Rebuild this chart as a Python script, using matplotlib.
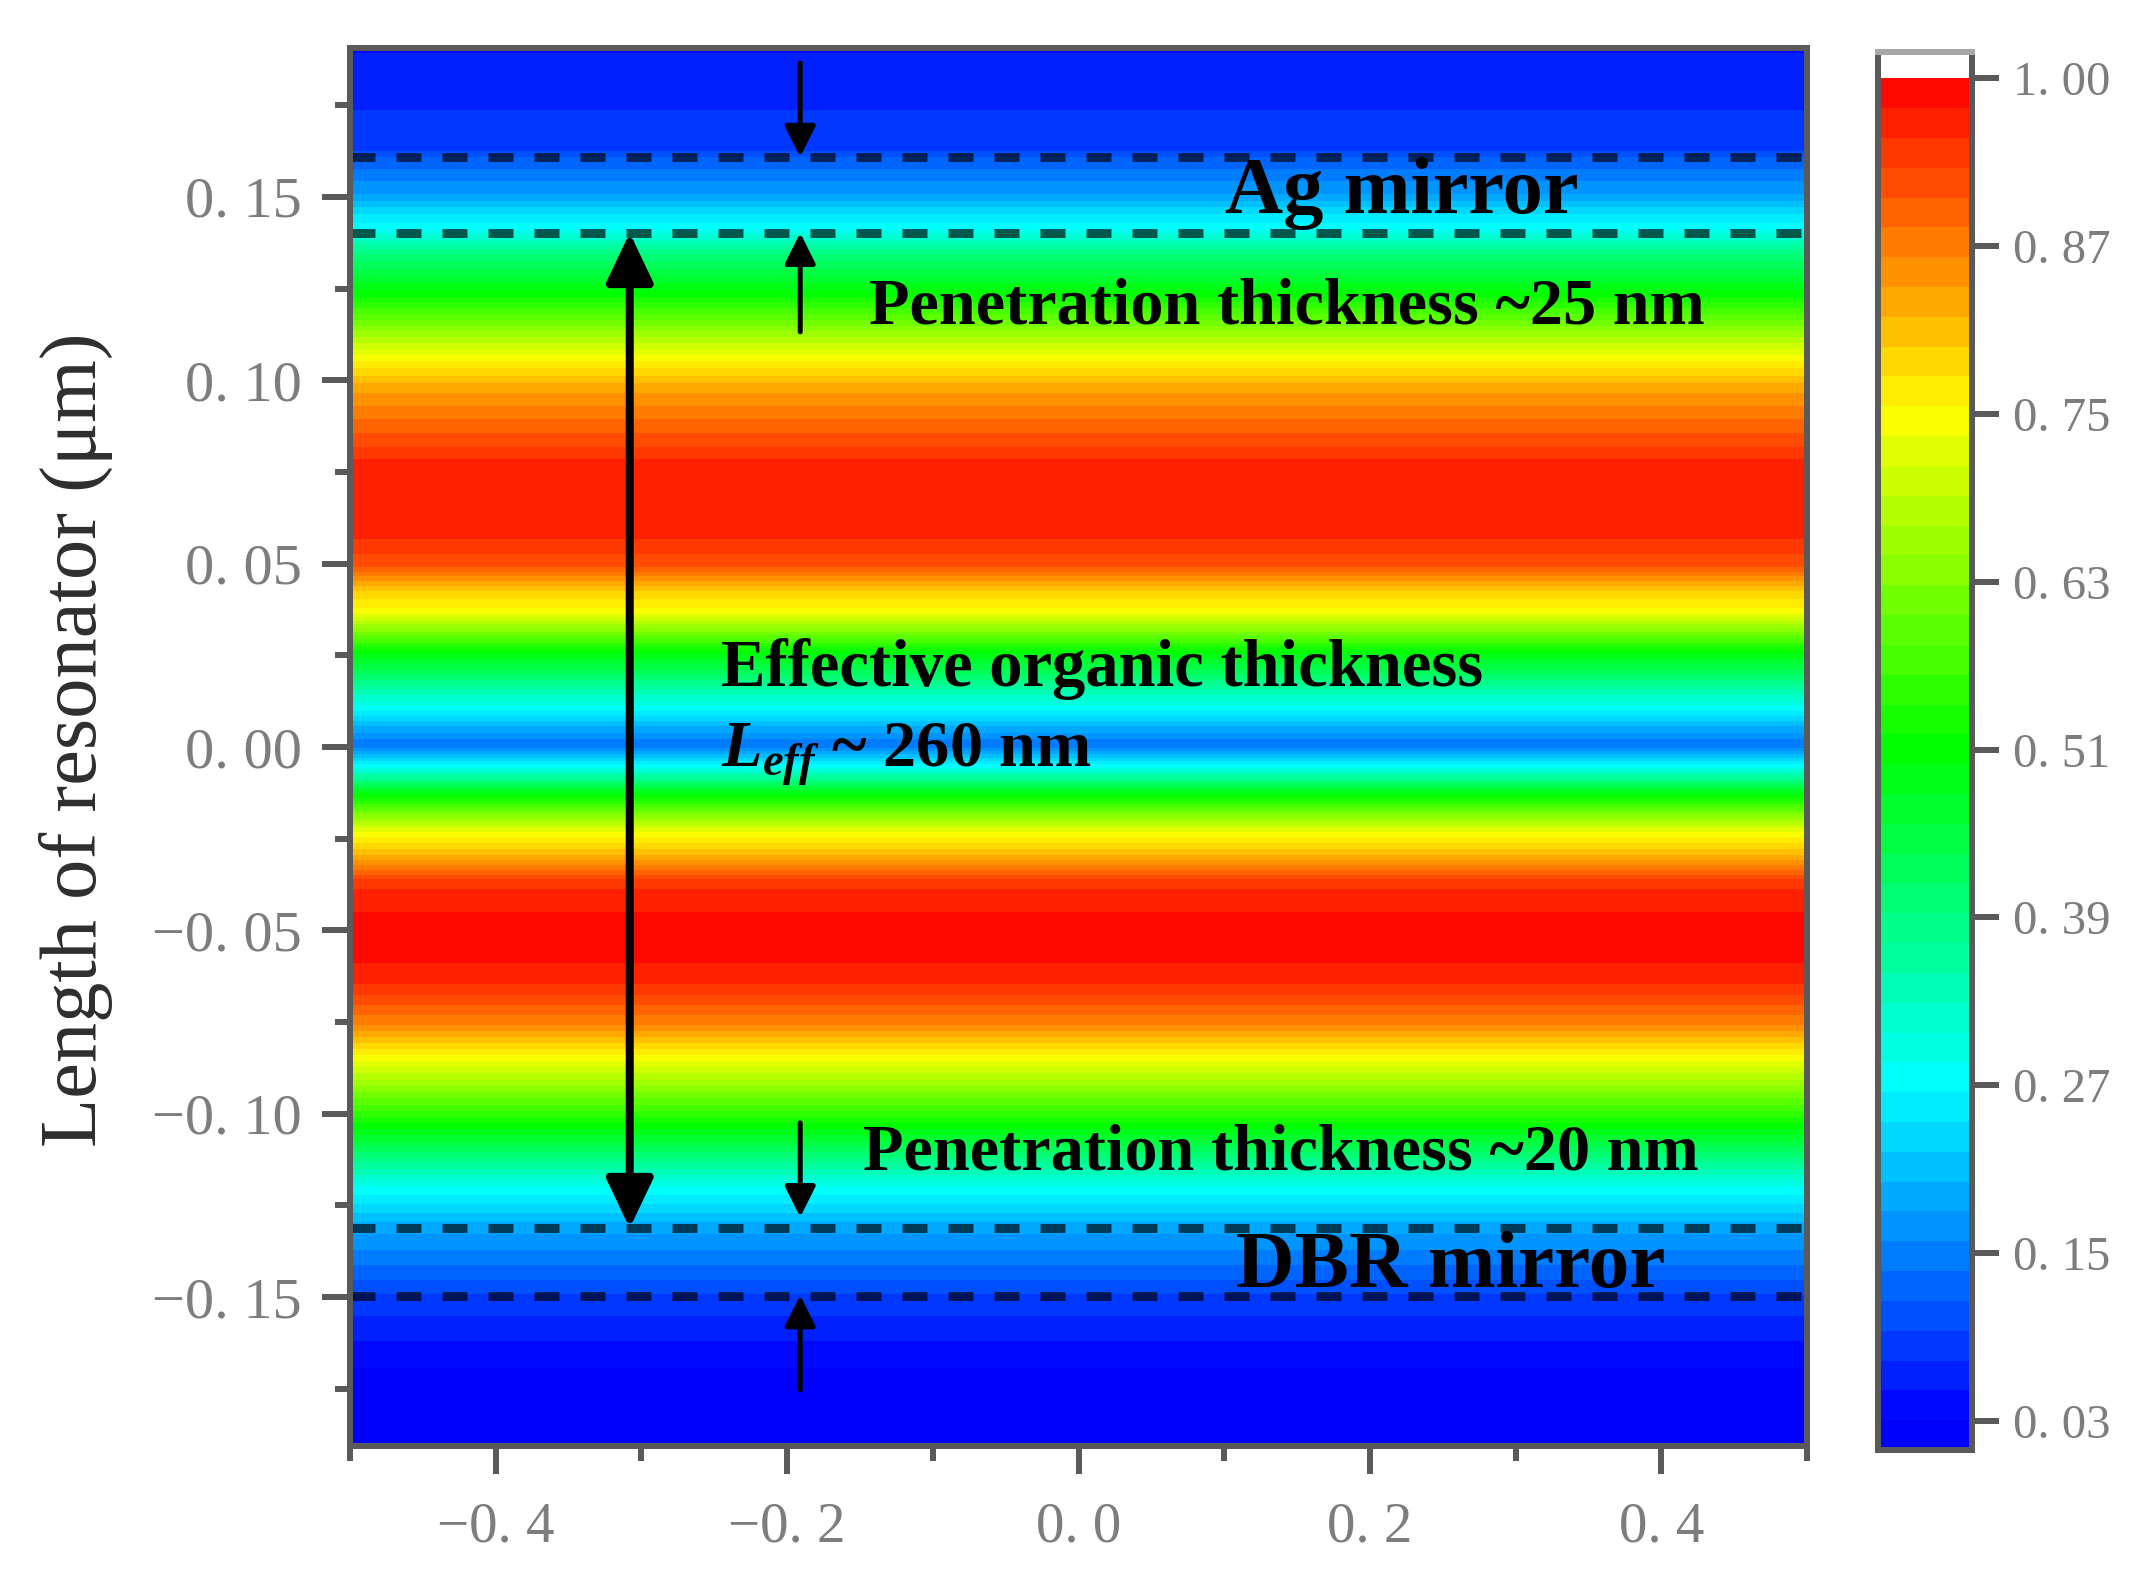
import matplotlib
matplotlib.use("Agg")
import matplotlib.pyplot as plt
import numpy as np
from matplotlib.colors import LinearSegmentedColormap, Normalize
from matplotlib.patches import FancyArrowPatch

plt.rcParams['font.family'] = ['Liberation Serif', 'DejaVu Serif']
plt.rcParams['mathtext.fontset'] = 'custom'
plt.rcParams['mathtext.it'] = 'Liberation Serif:italic:bold'
plt.rcParams['mathtext.rm'] = 'Liberation Serif:bold'

## Intensity profile along the resonator.
length_um = [-0.1906, -0.1695, -0.160, -0.15, -0.142, -0.131, -0.120, -0.1035,
             -0.0845, -0.076, -0.063, -0.051, -0.042, -0.037, -0.029, -0.0235,
             -0.0125, -0.0055, -0.0035, 0.0005, 0.0055, 0.011, 0.026, 0.037,
             0.043, 0.050, 0.055, 0.057, 0.067, 0.078, 0.080, 0.089, 0.098,
             0.106, 0.124, 0.135, 0.1415, 0.144, 0.151, 0.155, 0.161, 0.163,
             0.1735, 0.174, 0.189, 0.1906]
intensity = [0.02, 0.03, 0.058, 0.09, 0.135, 0.19, 0.285, 0.515,
             0.755, 0.87, 0.97, 0.995, 0.97, 0.95, 0.82, 0.75,
             0.50, 0.285, 0.24, 0.14, 0.20, 0.285, 0.515, 0.755,
             0.81, 0.93, 0.94, 0.96, 0.975, 0.96, 0.945, 0.895, 0.84,
             0.755, 0.51, 0.39, 0.275, 0.26, 0.18, 0.155, 0.115, 0.09,
             0.08, 0.07, 0.055, 0.035]
position = [-0.5, 0.5]

x_ticks = [-0.4, -0.2, 0.0, 0.2, 0.4]
x_labels = ["\u22120. 4", "\u22120. 2", "0. 0", "0. 2", "0. 4"]
x_minor = [-0.5, -0.3, -0.1, 0.1, 0.3, 0.5]
y_ticks = [-0.15, -0.10, -0.05, 0.00, 0.05, 0.10, 0.15]
y_labels = ["\u22120. 15", "\u22120. 10", "\u22120. 05", "0. 00", "0. 05", "0. 10", "0. 15"]
y_minor = [-0.175, -0.125, -0.075, -0.025, 0.025, 0.075, 0.125, 0.175]
cb_ticks = [0.03, 0.151, 0.2725, 0.394, 0.515, 0.636, 0.7575, 0.879, 1.00]
cb_labels = ["0. 03", "0. 15", "0. 27", "0. 39", "0. 51", "0. 63", "0. 75", "0. 87", "1. 00"]
mirror_lines = [0.1609, 0.1402, -0.1312, -0.1497]

W, H = 2139, 1575
GREY = "#7d7d7d"
EDGE = "#5a5a5a"


def px(p):
  return p * 0.72


fig = plt.figure(figsize=(W / 100, H / 100), dpi=100)
ax = fig.add_axes([350 / W, 1 - 1446 / H, 1457 / W, 1398 / H])
cax = fig.add_axes([1878 / W, 1 - 1450 / H, 94 / W, 1398 / H])

rainbow = LinearSegmentedColormap.from_list(
  "rainbow5", ["#0000ff", "#00ffff", "#00ff00", "#ffff00", "#ff0000"])
norm = Normalize(0.03, 1.0)
levels = np.linspace(0.009, 1.0, 47)
z = np.column_stack([intensity, intensity])
ax.contourf(position, length_um, z, levels=levels, cmap=rainbow, norm=norm)
ax.set_xlim(-0.5, 0.5)
ax.set_ylim(-0.1906, 0.1906)

## Axis ticks
ax.set_xticks(x_ticks, x_labels)
ax.set_xticks(x_minor, minor=True)
ax.set_yticks(y_ticks, y_labels)
ax.set_yticks(y_minor, minor=True)
ax.tick_params(which="major", length=px(28), width=px(6), color=EDGE, labelsize=42,
               labelcolor=GREY, pad=px(20))
ax.tick_params(axis="x", which="major", labelsize=41, pad=px(28))
ax.tick_params(which="minor", length=px(15), width=px(6), color=EDGE)
for s in ax.spines.values():
  s.set_linewidth(px(6))
  s.set_color(EDGE)
ax.set_ylabel("Length of resonator (\u03bcm)", fontsize=58, color="#2e2e2e")
ax.yaxis.set_label_coords((113 - 350) / 1457, (1446 - 740) / 1398)

## Mirror boundaries
for y in mirror_lines:
  ax.plot(position, [y, y], color="black", alpha=0.65, lw=px(9),
          linestyle=(0, (25 / 9, 21 / 9)), dash_capstyle="butt")


def arrow(x, y0, y1, style, head_len, head_wid, lw):
  ax.add_patch(FancyArrowPatch(
    (x, y0), (x, y1),
    arrowstyle=f"{style},head_length={px(head_len) / 10},head_width={px(head_wid) / 20}",
    mutation_scale=10, color="black", lw=px(lw), shrinkA=0, shrinkB=0, zorder=5))


arrow(-0.308, -0.1312, 0.1402, "<|-|>", 42, 40, 8)
arrow(-0.191, 0.1865, 0.1609, "-|>", 26, 26, 5)
arrow(-0.191, 0.1132, 0.1402, "-|>", 26, 26, 5)
arrow(-0.191, -0.1025, -0.1282, "-|>", 26, 26, 5)
arrow(-0.191, -0.1753, -0.1495, "-|>", 26, 26, 5)

## Annotations
def label(px_x, px_y, s, size):
  fig.text(px_x / W, 1 - px_y / H, s, fontsize=size, fontweight="bold",
           color="black", ha="left", va="center", zorder=10)


label(1225, 194, "Ag mirror", 58)
label(869, 308, "Penetration thickness ~25 nm", 47.7)
label(721, 669, "Effective organic thickness", 48)
label(721, 755, "$L_{eff}$ ~ 260 nm", 47.8)
label(863, 1154, "Penetration thickness ~20 nm", 47.7)
label(1236, 1267, "DBR mirror", 58.5)

## Colour bar, the same levels as the map
mid = (levels[:-1] + levels[1:]) / 2
cax.pcolormesh([0, 1], levels, mid.reshape(-1, 1), cmap=rainbow, norm=norm)
cax.set_xticks([])
cax.set_ylim(0.009, 1.019)
cax.yaxis.tick_right()
cax.set_yticks(cb_ticks, cb_labels)
cax.tick_params(length=px(27), width=px(6), color=EDGE, labelsize=35, labelcolor=GREY,
                pad=px(14))
for s in cax.spines.values():
  s.set_linewidth(px(6))
  s.set_color(EDGE)
cax.spines["top"].set_color("#a8a8a8")

fig.savefig("out.png", dpi=100)
